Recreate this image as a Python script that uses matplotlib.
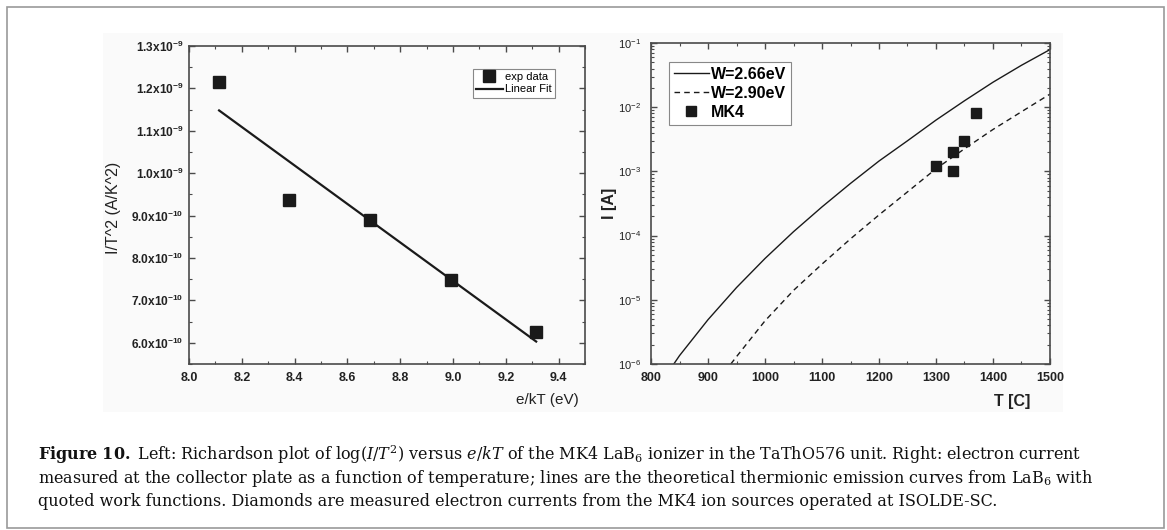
import numpy as np
import matplotlib
matplotlib.use('Agg')
import matplotlib.pyplot as plt
from matplotlib.ticker import FuncFormatter, MultipleLocator, LogLocator, NullFormatter, LogFormatterSciNotation
from matplotlib.patches import Rectangle

plt.rcParams['font.family'] = ['Liberation Sans', 'DejaVu Sans']
plt.rcParams['mathtext.fontset'] = 'custom'
plt.rcParams['mathtext.rm'] = 'Liberation Sans'
plt.rcParams['mathtext.it'] = 'Liberation Sans:italic'
plt.rcParams['mathtext.bf'] = 'Liberation Sans:bold'
plt.rcParams['mathtext.default'] = 'regular'

# Левый график: Richardson plot
ekT = [8.114, 8.377, 8.687, 8.991, 9.315]
IT2 = [1.216e-9, 0.936e-9, 0.890e-9, 0.747e-9, 0.625e-9]
fit_x = [8.114, 9.315]
fit_y = [1.148e-9, 0.603e-9]

# Правый график: ток эмиссии
T_266 = [840, 850, 900, 950, 1000, 1050, 1100, 1150, 1200, 1250, 1300, 1350, 1400, 1450, 1500]
I_266 = [1.0e-6, 1.35e-6, 4.9e-6, 1.55e-5, 4.4e-5, 1.15e-4, 2.8e-4, 6.5e-4, 1.45e-3,
         3.0e-3, 6.3e-3, 1.26e-2, 2.45e-2, 4.5e-2, 7.9e-2]
T_290 = [940, 950, 1000, 1050, 1100, 1150, 1200, 1250, 1300, 1350, 1400, 1450, 1500]
I_290 = [1.0e-6, 1.3e-6, 4.7e-6, 1.4e-5, 3.6e-5, 8.9e-5, 2.1e-4, 4.8e-4, 1.1e-3,
         2.25e-3, 4.5e-3, 8.5e-3, 1.6e-2]
T_mk4 = [1300, 1330, 1330, 1350, 1370]
I_mk4 = [1.2e-3, 2.0e-3, 1.0e-3, 3.0e-3, 8.0e-3]

x_ticks_left = [8.0, 8.2, 8.4, 8.6, 8.8, 9.0, 9.2, 9.4]
y_ticks_left = [6e-10, 7e-10, 8e-10, 9e-10, 1.0e-9, 1.1e-9, 1.2e-9, 1.3e-9]
x_ticks_right = [800, 900, 1000, 1100, 1200, 1300, 1400, 1500]

W, H = 1167, 530
fig = plt.figure(figsize=(W / 100, H / 100), dpi=100)

# рамка и фон рисунка
fig.add_artist(Rectangle((103 / W, 1 - 412 / H), 960 / W, 379 / H, transform=fig.transFigure,
                         facecolor='#fafafa', edgecolor='none', zorder=0))
fig.add_artist(Rectangle((7 / W, 2 / H), 1157 / W, 1 - 9 / H, transform=fig.transFigure,
                         fill=False, edgecolor='#9a9a9a', lw=1.2))

ax1 = fig.add_axes([189 / W, 1 - 364 / H, 396 / W, 318 / H])
ax2 = fig.add_axes([651 / W, 1 - 364 / H, 399 / W, 321 / H])

spine_col = '#4a4a4a'
for ax in (ax1, ax2):
    ax.set_facecolor('none')
    for s in ax.spines.values():
        s.set_color(spine_col)
        s.set_linewidth(1.2)
    ax.tick_params(which='both', direction='in', top=True, right=True, color=spine_col)
    ax.tick_params(which='major', length=4, width=1)
    ax.tick_params(which='minor', length=2.5, width=0.8)


def sci_fmt(v, pos):
    e = int(np.floor(np.log10(v) + 1e-6))
    m = v / 10 ** e
    return '%.1fx10$^{%d}$' % (m, e)


# --- левый ---
ax1.plot(ekT, IT2, 's', color='#1a1a1a', markersize=8.6, label='exp data')
ax1.plot(fit_x, fit_y, '-', color='#1a1a1a', lw=1.6, label='Linear Fit')
ax1.set_xlim(8.0, 9.5)
ax1.set_ylim(5.5e-10, 1.3e-9)
ax1.set_xticks(x_ticks_left)
ax1.set_yticks(y_ticks_left)
ax1.xaxis.set_minor_locator(MultipleLocator(0.1))
ax1.yaxis.set_minor_locator(MultipleLocator(0.5e-10))
ax1.xaxis.set_major_formatter(FuncFormatter(lambda v, p: '%.1f' % v))
ax1.yaxis.set_major_formatter(FuncFormatter(sci_fmt))
ax1.tick_params(axis='y', labelsize=8.6, pad=4)
ax1.tick_params(axis='x', labelsize=9, pad=6)
plt.setp(ax1.get_xticklabels() + ax1.get_yticklabels(), fontweight='bold', color='#222222')
ax1.set_xlabel('e/kT (eV)', fontsize=11, color='#222222')
ax1.xaxis.set_label_coords(0.904, -0.113)
ax1.xaxis.label.set_va('center')
ax1.set_ylabel('I/T^2 (A/K^2)', fontsize=11.5, color='#222222')
ax1.yaxis.set_label_coords(-0.19, 0.49)
ax1.yaxis.label.set_va('center')
leg1 = ax1.legend(loc='upper right', bbox_to_anchor=(0.924, 0.928), borderaxespad=0,
                  fancybox=False, edgecolor='#888888', framealpha=1, fontsize=8,
                  handlelength=2.4, handletextpad=0.2, borderpad=0.3, labelspacing=0.2)
leg1.get_frame().set_linewidth(0.8)

# --- правый ---
ax2.plot(T_266, I_266, '-', color='#1a1a1a', lw=1.0, label='W=2.66eV')
ax2.plot(T_290, I_290, '--', color='#1a1a1a', lw=1.0, dashes=(4, 3), label='W=2.90eV')
ax2.plot(T_mk4, I_mk4, 's', color='#1a1a1a', markersize=6.5, linestyle='none', label='MK4')
ax2.set_yscale('log')
ax2.set_xlim(800, 1500)
ax2.set_ylim(1e-6, 1e-1)
ax2.set_xticks(x_ticks_right)
ax2.xaxis.set_minor_locator(MultipleLocator(50))
ax2.yaxis.set_major_locator(LogLocator(base=10))
ax2.yaxis.set_minor_locator(LogLocator(base=10, subs=range(2, 10), numticks=20))
ax2.yaxis.set_major_formatter(LogFormatterSciNotation())
ax2.yaxis.set_minor_formatter(NullFormatter())
ax2.tick_params(axis='y', labelsize=8, pad=7)
ax2.tick_params(axis='x', labelsize=9, pad=6)
plt.setp(ax2.get_xticklabels(), fontweight='bold', color='#222222')
plt.setp(ax2.get_yticklabels(), color='#222222')
ax2.set_xlabel('T [C]', fontsize=11.5, fontweight='bold', color='#222222')
ax2.xaxis.set_label_coords(0.905, -0.118)
ax2.xaxis.label.set_va('center')
ax2.set_ylabel('I [A]', fontsize=11.5, fontweight='bold', color='#222222')
ax2.yaxis.set_label_coords(-0.103, 0.5)
ax2.yaxis.label.set_va('center')
leg2 = ax2.legend(loc='upper left', bbox_to_anchor=(0.045, 0.941), borderaxespad=0,
                  fancybox=False, edgecolor='#888888', framealpha=1,
                  prop={'size': 11.5, 'weight': 'bold'},
                  handlelength=2.2, handletextpad=0.15, borderpad=0.3, labelspacing=0.25)
leg2.get_frame().set_linewidth(0.8)

# подпись к рисунку
cap_x = 38 / W
cap_kw = dict(family='DejaVu Serif', fontsize=10.5, math_fontfamily='dejavuserif',
              va='baseline', ha='left', color='#111111')
cap1 = fig.text(cap_x, 1 - 460 / H,
                r'$\mathbf{Figure\ 10.}$ Left: Richardson plot of log($\mathit{I}/\mathit{T}^2$) versus '
                r'$\mathit{e}/\mathit{kT}$ of the MK4 LaB$_6$ ionizer in the TaThO576 unit. Right: electron current',
                **cap_kw)
cap2 = fig.text(cap_x, 1 - 483 / H,
                r'measured at the collector plate as a function of temperature; lines are the theoretical '
                r'thermionic emission curves from LaB$_6$ with', **cap_kw)
cap3 = fig.text(cap_x, 1 - 506 / H,
                'quoted work functions. Diamonds are measured electron currents from the MK4 ion sources '
                'operated at ISOLDE-SC.', **cap_kw)

# подгонка размера шрифта подписи под ширину строки
fig.canvas.draw()
w2 = cap2.get_window_extent(fig.canvas.get_renderer()).width
fs = 10.5 * 1059 / w2
for t in (cap1, cap2, cap3):
    t.set_fontsize(fs)

fig.savefig('out.png', dpi=100)
